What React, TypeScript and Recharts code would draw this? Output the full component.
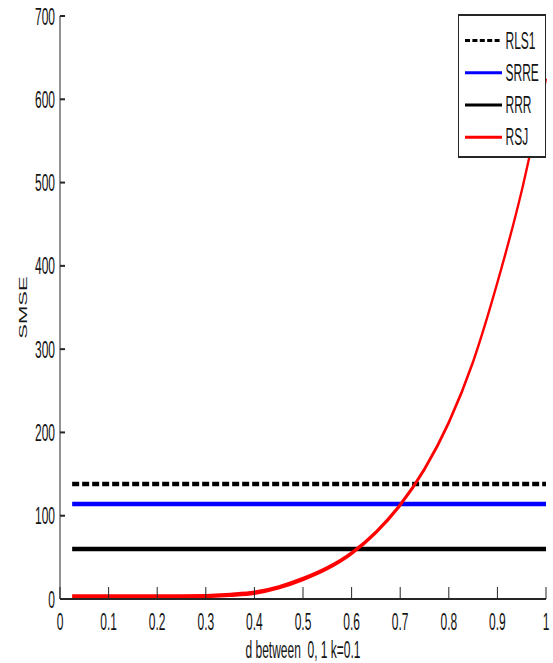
import React from 'react';
import { LineChart, Line, XAxis, YAxis, Legend } from 'recharts';

// d from 0 to 1, k = 0.1
const dValues = [0.025, 0.05, 0.1, 0.15, 0.2, 0.25, 0.3, 0.35, 0.4, 0.45, 0.5, 0.55, 0.6, 0.65, 0.7, 0.75, 0.8, 0.85, 0.9, 0.95, 1.0];
const rls1 = [138, 138, 138, 138, 138, 138, 138, 138, 138, 138, 138, 138, 138, 138, 138, 138, 138, 138, 138, 138, 138];
const srre = [114, 114, 114, 114, 114, 114, 114, 114, 114, 114, 114, 114, 114, 114, 114, 114, 114, 114, 114, 114, 114];
const rrr = [60, 60, 60, 60, 60, 60, 60, 60, 60, 60, 60, 60, 60, 60, 60, 60, 60, 60, 60, 60, 60];
const rsj = [3, 3, 3, 3, 3, 3, 3.5, 5, 7.5, 14, 24, 37, 55, 80, 113, 156, 212, 285, 380, 490, 625];

const xTicks = [0, 0.1, 0.2, 0.3, 0.4, 0.5, 0.6, 0.7, 0.8, 0.9, 1];
const yTicks = [0, 100, 200, 300, 400, 500, 600, 700];

const seriesNames = ['RLS1', 'SRRE', 'RRR', 'RSJ'];
const seriesKeys = ['rls1', 'srre', 'rrr', 'rsj'];
const seriesColors = ['#000000', '#0000ff', '#000000', '#ff0000'];
const seriesDash = ['7 3', undefined, undefined, undefined];

const rows = dValues.map((d, i) => ({ d, rls1: rls1[i], srre: srre[i], rrr: rrr[i], rsj: rsj[i] }));

const W = 553;
const H = 663;
const FONT = 'Arial, "Liberation Sans", sans-serif';
const INK = '#141414';
const FRAME = '#262626';

// the original figure is stretched 2x vertically, so the chart is drawn at half height and scaled
const YLabel = (props: any) => {
  const { viewBox } = props;
  const cx = viewBox.x + 27;
  const cy = viewBox.y + viewBox.height / 2;
  return (
    <text x={cx} y={cy} transform={`rotate(-90 ${cx} ${cy})`} textAnchor="middle" fontSize={11} fontFamily={FONT} fill={INK}>
      SMSE
    </text>
  );
};

const XLabel = (props: any) => {
  const { viewBox } = props;
  return (
    <text x={viewBox.x + viewBox.width / 2} y={viewBox.y + 29.5} textAnchor="middle" fontSize={12} fontFamily={FONT} fill={INK} style={{ whiteSpace: 'pre' }}>
      d between  0, 1 k=0.1
    </text>
  );
};

const LegendBox = () => (
  <svg width={88} height={72} style={{ display: 'block', background: '#fff', border: `1px solid ${FRAME}`, boxSizing: 'border-box' }}>
    {seriesNames.map((name, i) => {
      const cy = 12.3 + i * 16.1;
      return (
        <g key={name}>
          <line x1={6} x2={43} y1={cy} y2={cy} stroke={seriesColors[i]} strokeWidth={1.5} strokeDasharray={seriesDash[i] ? '5 2.4' : undefined} />
          <text x={46.5} y={cy} dominantBaseline="central" fontSize={12} fontFamily={FONT} fill={INK}>
            {name}
          </text>
        </g>
      );
    })}
  </svg>
);

const App: React.FC = () => {
  return (
    <div style={{ position: 'absolute', left: 0, top: 0, width: W, height: H, overflow: 'hidden', background: '#fff' }}>
      <div style={{ width: W, height: H / 2, transform: 'scaleY(2)', transformOrigin: '0 0' }}>
        <LineChart width={W} height={H / 2} data={rows} margin={{ top: 8, right: 7, bottom: 2, left: 0 }}>
          <XAxis
            dataKey="d"
            type="number"
            domain={[0, 1]}
            ticks={xTicks}
            interval={0}
            height={30}
            tickSize={-6}
            tickMargin={13}
            tick={{ fill: INK, fontSize: 12, fontFamily: FONT }}
            axisLine={{ stroke: FRAME }}
            tickLine={{ stroke: FRAME }}
            label={<XLabel />}
          />
          <XAxis
            xAxisId="top"
            orientation="top"
            dataKey="d"
            type="number"
            domain={[0, 1]}
            ticks={xTicks}
            interval={0}
            height={0}
            tickSize={-6}
            tickFormatter={() => ''}
            axisLine={{ stroke: FRAME }}
            tickLine={{ stroke: FRAME }}
          />
          <YAxis
            type="number"
            domain={[0, 700]}
            ticks={yTicks}
            interval={0}
            width={60}
            tickSize={-5}
            tickMargin={10}
            tick={{ fill: INK, fontSize: 12, fontFamily: FONT }}
            axisLine={{ stroke: FRAME }}
            tickLine={{ stroke: FRAME }}
            label={<YLabel />}
          />
          <YAxis
            yAxisId="right"
            orientation="right"
            type="number"
            domain={[0, 700]}
            ticks={yTicks}
            interval={0}
            width={0}
            tickSize={-5}
            tickFormatter={() => ''}
            axisLine={{ stroke: FRAME }}
            tickLine={{ stroke: FRAME }}
          />
          {seriesKeys.map((key, i) => (
            <Line
              key={key}
              type="monotone"
              dataKey={key}
              name={seriesNames[i]}
              stroke={seriesColors[i]}
              strokeWidth={2.2}
              strokeDasharray={seriesDash[i]}
              dot={false}
              activeDot={false}
              isAnimationActive={false}
            />
          ))}
          <Legend
            layout="horizontal"
            verticalAlign="middle"
            align="center"
            content={<LegendBox />}
            wrapperStyle={{ left: 458, top: 6.7, width: 88, height: 72 }}
          />
        </LineChart>
      </div>
    </div>
  );
};

export default App;
